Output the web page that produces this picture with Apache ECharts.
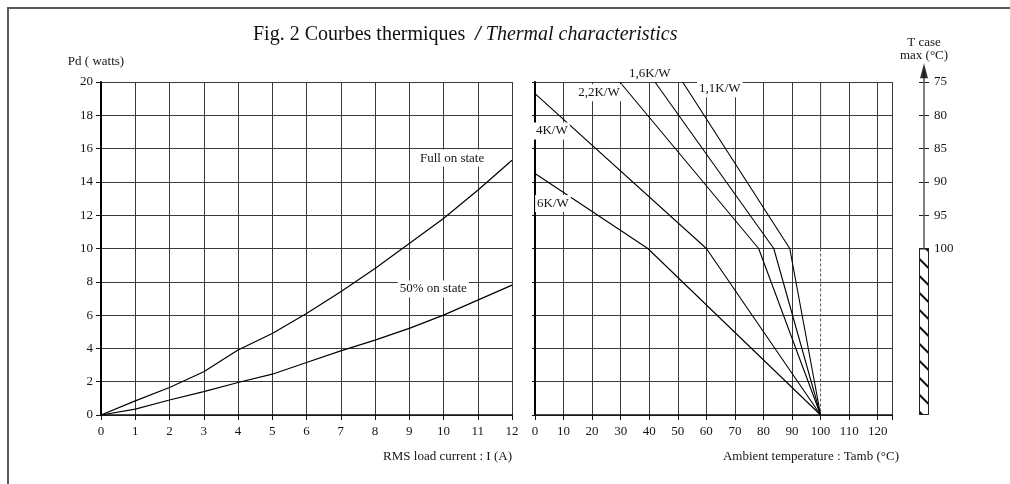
<!DOCTYPE html>
<html><head><meta charset="utf-8">
<script src="https://cdn.jsdelivr.net/npm/echarts@6/dist/echarts.min.js"></script>
<style>html,body{margin:0;padding:0;background:#fff}#c{width:1010px;height:484px}</style>
</head><body><div id="c"></div>
<script>
// ---- data ----
const currentA = [0,1,2,3,4,5,6,7,8,9,10,11,12];
const pdFullOn = [0,0.85,1.65,2.6,3.9,4.9,6.1,7.4,8.8,10.3,11.8,13.5,15.3];
const pdHalfOn = [0,0.35,0.9,1.4,1.95,2.45,3.15,3.85,4.5,5.2,6.0,6.9,7.8];
const curveNames = ['Full on state','50% on state'];
const curveLabelAt = [[10.25,15.43],[9.7,7.57]];

const rthNames = ['6K/W','4K/W','2,2K/W','1,6K/W','1,1K/W'];
const rthTamb = [[0,39.5,100],[0,60,100],[29.7,78.3,100],[42,83.6,100],[51.7,89.2,100]];
const rthPd   = [[14.5,10,0],[19.3,10,0],[20,10,0],[20,10,0],[20,10,0]];
const rthLabelAt = [[6.3,12.7],[5.9,17.06],[22.4,19.35],[40.2,20],[64.7,19.6]];
const rthLabelShiftPx = [0,0,0,-8,0];

const tambLimit = [100,100,100];
const pdLimit = [20,10,0];

const tcaseTicks = [75,80,85,90,95,100];
const tcaseHatchFrom = 100, tcaseHatchTo = 125;
const tcaseArrowTip = 73.3;

const xTicksRight = [0,10,20,30,40,50,60,70,80,90,100,110,120];

// ---- chart ----
const FF = 'Liberation Serif';
const TXT = '#151515';
const GRIDC = '#3a3a3a';
const chart = echarts.init(document.getElementById('c'));

const rightSplitColors = [];
for (let v = 0; v <= 130; v += 10) rightSplitColors.push(v === 100 ? 'rgba(0,0,0,0)' : GRIDC);

const series = [];
[pdFullOn, pdHalfOn].forEach((arr, k) => {
  series.push({
    type: 'line', name: curveNames[k], xAxisIndex: 0, yAxisIndex: 0,
    data: currentA.map((x, i) => [x, arr[i]]),
    symbol: 'none', lineStyle: {color: '#000', width: 1.2}, z: 3,
    markPoint: {
      symbol: 'rect', symbolSize: 0, silent: true,
      data: [{name: curveNames[k], coord: curveLabelAt[k]}],
      label: {show: true, position: 'inside', formatter: p => p.name, fontFamily: FF, fontSize: 13, color: TXT,
              backgroundColor: '#fff', padding: [2, 2]}
    }
  });
});
rthNames.forEach((n, k) => {
  series.push({
    type: 'line', name: n, xAxisIndex: 1, yAxisIndex: 1,
    data: rthTamb[k].map((x, i) => [x, rthPd[k][i]]),
    symbol: 'none', lineStyle: {color: '#000', width: 1.1}, z: 3,
    markPoint: {
      symbol: 'rect', symbolSize: 0, silent: true,
      data: [{name: n, coord: rthLabelAt[k]}],
      label: {show: true, position: 'inside', offset: [0, rthLabelShiftPx[k]], formatter: p => p.name,
              fontFamily: FF, fontSize: 13, color: TXT,
              backgroundColor: rthLabelShiftPx[k] ? 'transparent' : '#fff', padding: [2, 2]}
    }
  });
});
// limit line at Tamb = 100
series.push({
  type: 'line', xAxisIndex: 1, yAxisIndex: 1, symbol: 'none', silent: true,
  data: [[tambLimit[0], pdLimit[0]], [tambLimit[1], pdLimit[1]]],
  lineStyle: {color: GRIDC, width: 1}, z: 2
});
series.push({
  type: 'line', xAxisIndex: 1, yAxisIndex: 1, symbol: 'none', silent: true,
  data: [[tambLimit[1], pdLimit[1]], [tambLimit[2], pdLimit[2]]],
  lineStyle: {color: '#555', width: 1, type: [3, 2]}, z: 2
});
// T case scale
series.push({
  type: 'bar', xAxisIndex: 2, yAxisIndex: 2, stack: 'tc', barWidth: 10, silent: true,
  data: [tcaseHatchFrom], itemStyle: {color: 'rgba(0,0,0,0)'}
});
series.push({
  type: 'bar', xAxisIndex: 2, yAxisIndex: 2, stack: 'tc', barWidth: 10, silent: true,
  data: [tcaseHatchTo - tcaseHatchFrom],
  itemStyle: {
    color: '#fff', borderColor: '#222', borderWidth: 1,
    decal: {symbol: 'rect', symbolSize: 1, color: '#111', backgroundColor: '#fff',
            dashArrayX: [1, 0], dashArrayY: [1.3, 9.5], rotation: Math.PI / 4}
  }
});
series.push({
  type: 'line', xAxisIndex: 2, yAxisIndex: 2, symbol: 'none', silent: true, clip: false,
  data: [['Tc', tcaseHatchFrom], ['Tc', tcaseArrowTip]],
  lineStyle: {color: '#555', width: 1.5}, z: 4
});
series.push({
  type: 'scatter', xAxisIndex: 2, yAxisIndex: 2, silent: true, clip: false,
  data: [['Tc', tcaseArrowTip]], symbol: 'triangle', symbolSize: [8, 15],
  itemStyle: {color: '#000'}, z: 5
});

const axisLabelBase = {fontFamily: FF, fontSize: 13, color: TXT};
chart.setOption({
  animation: false,
  backgroundColor: '#fff',
  title: {
    text: '{a|Fig. 2 Courbes thermiques  }{s|/ }{b|Thermal characteristics}',
    left: 253, top: 25, padding: 0,
    textStyle: {fontWeight: 'normal', rich: {
      a: {fontFamily: FF, fontSize: 20, color: '#111', fontWeight: 'normal'},
      s: {fontFamily: FF, fontSize: 20, color: '#111', fontWeight: 'bold', fontStyle: 'italic'},
      b: {fontFamily: FF, fontSize: 20, color: '#111', fontWeight: 'normal', fontStyle: 'italic'}
    }}
  },
  graphic: [
    {type: 'polyline', shape: {points: [[8, 484], [8, 8], [1010, 8]]}, style: {stroke: '#5a5a5a', lineWidth: 2, fill: null}, silent: true},
    {type: 'text', x: 924, y: 49, style: {text: 'T case\nmax (°C)', fontFamily: FF, fontSize: 13, lineHeight: 13, fill: TXT,
      textAlign: 'center', textVerticalAlign: 'middle', verticalAlign: 'middle'}}
  ],
  grid: [
    {left: 101, top: 82, width: 411, height: 333},
    {left: 535, top: 82, width: 357, height: 333},
    {left: 914, top: 82, width: 20, height: 333}
  ],
  xAxis: [
    {type: 'value', gridIndex: 0, min: 0, max: 12, interval: 1,
     axisLine: {lineStyle: {color: '#111', width: 1.5}},
     axisTick: {show: true, length: 5, lineStyle: {color: '#111'}},
     axisLabel: Object.assign({margin: 10}, axisLabelBase),
     splitLine: {show: true, lineStyle: {color: GRIDC, width: 1}},
     name: 'RMS load current : I (A)', nameLocation: 'end', nameGap: 0,
     nameTextStyle: {fontFamily: FF, fontSize: 13, color: TXT, align: 'right', verticalAlign: 'top', padding: [35, 0, 0, 0]}},
    {type: 'value', gridIndex: 1, min: 0, max: 125, interval: 10,
     axisLine: {lineStyle: {color: '#111', width: 1.5}},
     axisTick: {show: true, length: 5, lineStyle: {color: '#111'}},
     axisLabel: Object.assign({margin: 10, formatter: v => (xTicksRight.indexOf(v) >= 0 ? String(v) : '')}, axisLabelBase),
     splitLine: {show: true, lineStyle: {color: rightSplitColors, width: 1}},
     name: 'Ambient temperature : Tamb (°C)', nameLocation: 'end', nameGap: 7,
     nameTextStyle: {fontFamily: FF, fontSize: 13, color: TXT, align: 'right', verticalAlign: 'top', padding: [35, 0, 0, 0]}},
    {type: 'category', gridIndex: 2, data: ['Tc'], show: false}
  ],
  yAxis: [
    {type: 'value', gridIndex: 0, min: 0, max: 20, interval: 2,
     axisLine: {show: true, lineStyle: {color: '#000', width: 2}},
     axisTick: {show: true, length: 5, lineStyle: {color: '#111'}},
     axisLabel: Object.assign({margin: 8}, axisLabelBase),
     splitLine: {show: true, lineStyle: {color: GRIDC, width: 1}},
     name: 'Pd ( watts)', nameLocation: 'end', nameGap: 14,
     nameTextStyle: {fontFamily: FF, fontSize: 13, color: TXT, padding: [0, 10, 0, 0]}},
    {type: 'value', gridIndex: 1, min: 0, max: 20, interval: 2,
     axisLine: {show: true, lineStyle: {color: '#000', width: 2}},
     axisTick: {show: true, length: 3, lineStyle: {color: '#111'}},
     axisLabel: {show: false},
     splitLine: {show: true, lineStyle: {color: GRIDC, width: 1}}},
    {type: 'value', gridIndex: 2, min: 75, max: 125, inverse: true, position: 'left', offset: -10,
     axisLine: {show: false}, splitLine: {show: false}, axisLabel: {show: false},
     axisTick: {show: true, length: 5, customValues: tcaseTicks, lineStyle: {color: '#222'}}},
    {type: 'value', gridIndex: 2, min: 75, max: 125, inverse: true, position: 'right', offset: -10,
     axisLine: {show: false}, splitLine: {show: false},
     axisLabel: Object.assign({margin: 10, customValues: tcaseTicks}, axisLabelBase),
     axisTick: {show: true, length: 5, customValues: tcaseTicks, lineStyle: {color: '#222'}}}
  ],
  series: series
});
</script>
</body></html>
